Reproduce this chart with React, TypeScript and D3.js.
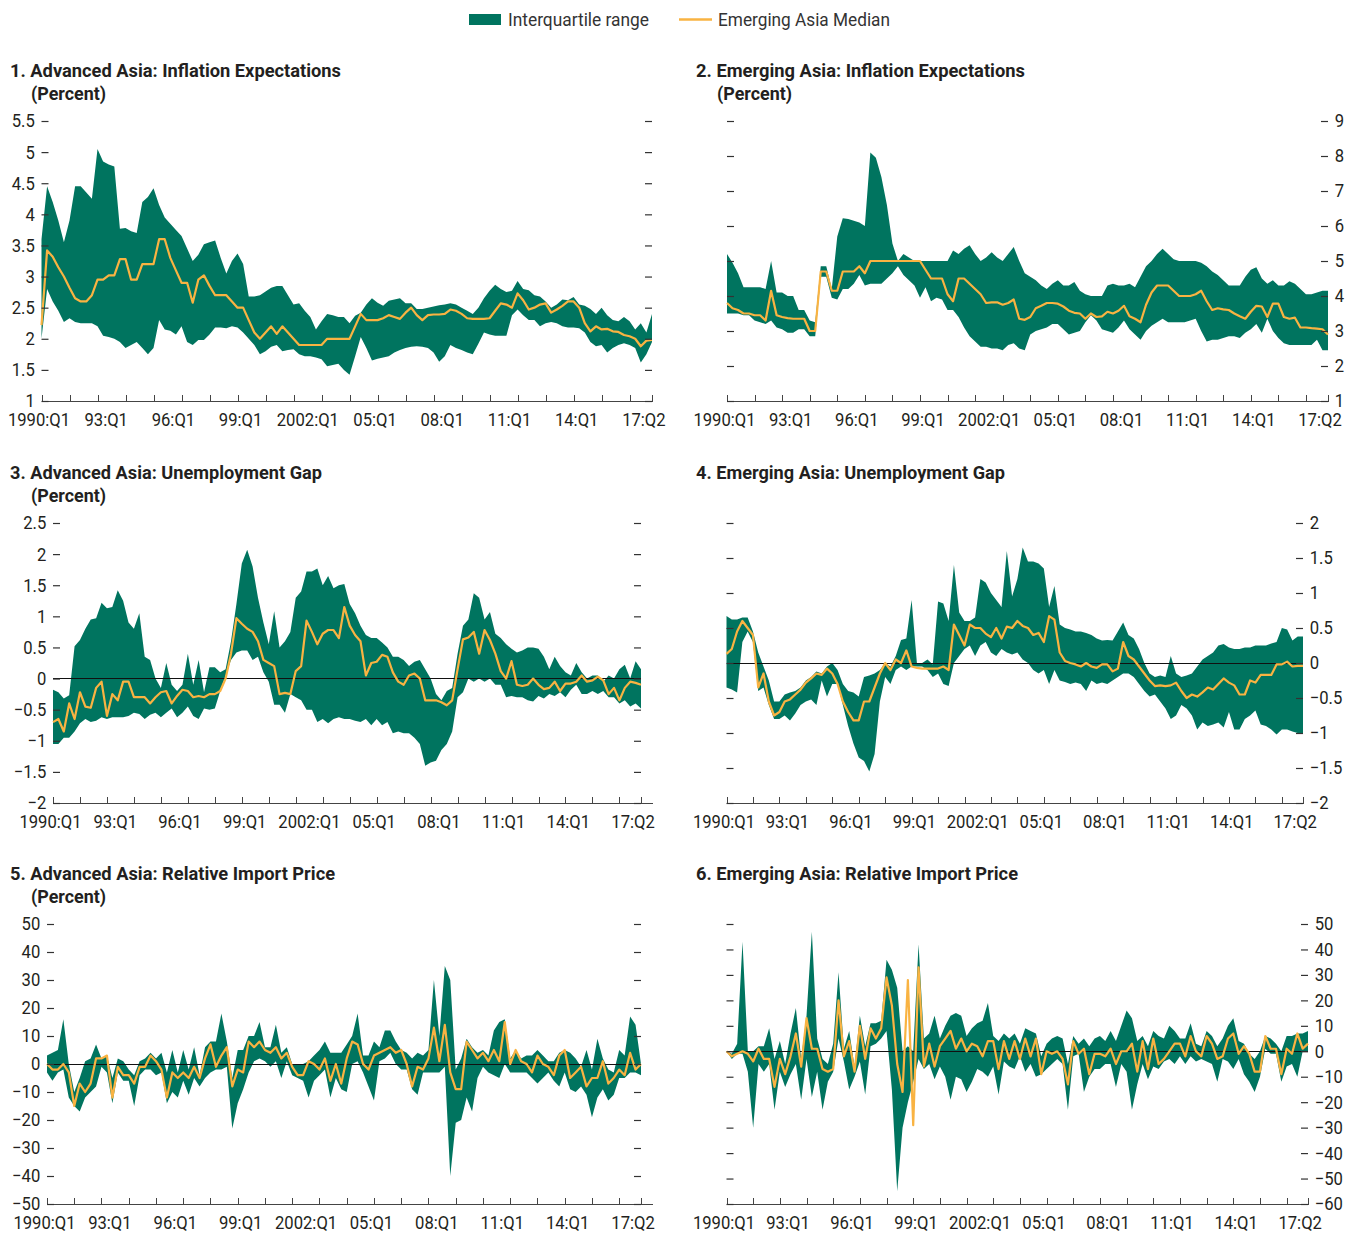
import { useEffect, useRef } from 'react'
import * as d3 from 'd3'

const W = 1362
const H = 1234
const GREEN = '#00745f'
const ORANGE = '#f9b342'
const INK = '#231f20'
const FONT = "Roboto, 'Liberation Sans', Arial, sans-serif"

// quarters 1990:Q1 .. 2017:Q2
const QUARTERS: string[] = []
for (let y = 1990; y <= 2017; y++) {
  for (let q = 1; q <= 4; q++) {
    if (y < 2017 || q <= 2) QUARTERS.push(`${y}Q${q}`)
  }
}

const X_LABELS = ['1990:Q1', '93:Q1', '96:Q1', '99:Q1', '2002:Q1', '05:Q1', '08:Q1', '11:Q1', '14:Q1', '17:Q2']
const X_LABEL_AT = ['1990Q1', '1993Q1', '1996Q1', '1999Q1', '2002Q1', '2005Q1', '2008Q1', '2011Q1', '2014Q1', '2017Q1']

const TICKS_ADV_INF = [1, 1.5, 2, 2.5, 3, 3.5, 4, 4.5, 5, 5.5]
const TICKS_EM_INF = [1, 2, 3, 4, 5, 6, 7, 8, 9]
const TICKS_ADV_GAP = [-2, -1.5, -1, -0.5, 0, 0.5, 1, 1.5, 2, 2.5]
const TICKS_EM_GAP = [-2, -1.5, -1, -0.5, 0, 0.5, 1, 1.5, 2]
const TICKS_ADV_IMP = [-50, -40, -30, -20, -10, 0, 10, 20, 30, 40, 50]
const TICKS_EM_IMP = [-60, -50, -40, -30, -20, -10, 0, 10, 20, 30, 40, 50]

// 1. Advanced Asia: inflation expectations
const ADV_INF_HI = [
  3.6, 4.45, 4.2, 3.9, 3.55, 3.9, 4.45, 4.45, 4.35, 4.25,
  5.05, 4.85, 4.8, 4.77, 3.77, 3.78, 3.73, 3.7, 4.2, 4.28,
  4.42, 4.15, 3.95, 3.85, 3.75, 3.65, 3.45, 3.25, 3.35, 3.52,
  3.55, 3.58, 3.3, 3.05, 3.25, 3.37, 3.2, 2.68, 2.68, 2.7,
  2.76, 2.82, 2.85, 2.85, 2.7, 2.55, 2.57, 2.45, 2.35, 2.15,
  2.28, 2.4, 2.38, 2.35, 2.35, 2.25, 2.37, 2.42, 2.55, 2.65,
  2.58, 2.53, 2.61, 2.63, 2.65, 2.57, 2.57, 2.48, 2.48, 2.5,
  2.52, 2.54, 2.55, 2.57, 2.55, 2.5, 2.45, 2.4, 2.5, 2.65,
  2.77, 2.87, 2.8, 2.75, 2.77, 2.93, 2.8, 2.78, 2.7, 2.68,
  2.6, 2.5, 2.55, 2.63, 2.62, 2.67, 2.55, 2.53, 2.48, 2.4,
  2.5, 2.38, 2.3, 2.28, 2.35, 2.28, 2.15, 2.25, 2.1, 2.4,
]
const ADV_INF_LO = [
  2.0, 2.8, 2.6, 2.45, 2.27, 2.33, 2.27, 2.25, 2.25, 2.25,
  2.2, 2.05, 2.03, 2.0, 1.95, 1.85, 1.9, 1.95, 1.85, 1.75,
  1.85, 2.3, 2.15, 2.13, 2.07, 2.2, 1.95, 1.9, 1.98, 1.98,
  2.07, 2.18, 2.18, 2.17, 2.2, 2.18, 2.1, 2.0, 1.9, 1.75,
  1.8, 1.87, 1.9, 1.8, 1.82, 1.83, 1.75, 1.72, 1.72, 1.7,
  1.67, 1.56, 1.58, 1.6, 1.5, 1.42, 1.72, 2.03, 1.85, 1.65,
  1.68, 1.7, 1.72, 1.78, 1.82, 1.85, 1.87, 1.88, 1.87, 1.85,
  1.78, 1.63, 1.72, 1.9, 1.85, 1.82, 1.78, 1.75, 1.92, 2.1,
  2.07, 2.05, 2.05, 2.05, 2.38, 2.47, 2.38, 2.3, 2.3, 2.2,
  2.25, 2.27, 2.25, 2.2, 2.18, 2.18, 2.17, 2.1, 1.95, 1.88,
  1.9, 1.78, 1.85, 1.9, 1.93, 1.9, 1.85, 1.62, 1.75, 1.95,
]
const ADV_INF_MED = [
  2.22, 3.42, 3.32, 3.15, 3.0, 2.82, 2.65, 2.6, 2.6, 2.7,
  2.95, 2.95, 3.02, 3.02, 3.28, 3.28, 2.95, 2.95, 3.2, 3.2,
  3.2, 3.6, 3.6, 3.3, 3.1, 2.9, 2.9, 2.58, 2.95, 3.02,
  2.85, 2.7, 2.7, 2.7, 2.6, 2.5, 2.5, 2.3, 2.1, 2.0,
  2.1, 2.2, 2.08, 2.2, 2.1, 2.0, 1.9, 1.9, 1.9, 1.9,
  1.9, 2.0, 2.0, 2.0, 2.0, 2.0, 2.2, 2.4, 2.3, 2.3,
  2.3, 2.33, 2.38, 2.35, 2.32, 2.42, 2.5, 2.38, 2.3, 2.38,
  2.39, 2.39, 2.4, 2.47, 2.45, 2.4, 2.33, 2.32, 2.32, 2.32,
  2.33, 2.45, 2.57, 2.55, 2.5, 2.73, 2.62, 2.47, 2.5, 2.55,
  2.57, 2.42, 2.47, 2.53, 2.6, 2.6, 2.5, 2.25, 2.12, 2.2,
  2.15, 2.16, 2.12, 2.11, 2.06, 2.04, 2.0, 1.88, 1.97, 1.98,
]

// 2. Emerging Asia: inflation expectations
const EM_INF_HI = [
  5.2, 4.95, 4.65, 4.25, 4.25, 4.25, 4.25, 4.2, 5.0, 4.1,
  4.1, 4.0, 4.0, 3.6, 3.6, 3.3, 3.25, 4.85, 4.85, 4.2,
  5.7, 6.22, 6.2, 6.15, 6.1, 6.0, 8.1, 7.95, 7.4, 6.6,
  5.5, 5.0, 5.2, 5.1, 5.0, 5.0, 5.0, 5.0, 5.0, 5.0,
  5.0, 5.3, 5.2, 5.35, 5.45, 5.2, 5.0, 5.1, 5.25, 5.1,
  5.0, 5.2, 5.4, 5.0, 4.65, 4.55, 4.45, 4.3, 4.2, 4.35,
  4.45, 4.3, 4.3, 4.4, 4.15, 4.05, 4.0, 4.0, 4.0, 4.3,
  4.35, 4.3, 4.3, 4.35, 4.25, 4.55, 4.85, 5.0, 5.2, 5.35,
  5.2, 5.05, 5.0, 5.0, 5.0, 5.0, 4.95, 4.85, 4.7, 4.6,
  4.45, 4.3, 4.3, 4.3, 4.55, 4.75, 4.82, 4.5, 4.35, 4.45,
  4.3, 4.3, 4.42, 4.35, 4.2, 4.05, 4.05, 4.1, 4.15, 4.15,
]
const EM_INF_LO = [
  3.5, 3.5, 3.5, 3.45, 3.45, 3.3, 3.25, 3.2, 3.3, 3.1,
  3.05, 2.95, 2.95, 3.05, 3.05, 2.85, 2.85, 4.55, 4.55, 3.95,
  3.9, 4.2, 4.2, 4.35, 4.6, 4.3, 4.35, 4.35, 4.35, 4.5,
  4.65, 4.85, 4.6, 4.45, 4.3, 3.95, 4.25, 3.85, 3.95, 3.9,
  3.6, 3.6, 3.4, 3.1, 2.85, 2.7, 2.55, 2.55, 2.5, 2.5,
  2.45, 2.6, 2.65, 2.5, 2.45, 2.9, 3.0, 3.05, 3.1, 3.2,
  3.2, 3.05, 2.9, 2.95, 3.0, 3.25, 3.45, 3.3, 3.05, 3.0,
  2.95, 3.1, 3.3, 3.05, 2.9, 2.75, 3.0, 3.15, 3.25, 3.35,
  3.25, 3.25, 3.25, 3.25, 3.3, 3.35, 3.0, 2.7, 2.75, 2.75,
  2.8, 2.85, 2.85, 2.8, 2.95, 3.05, 3.2, 2.95, 3.35, 3.0,
  2.8, 2.65, 2.6, 2.6, 2.6, 2.6, 2.6, 2.75, 2.45, 2.45,
]
const EM_INF_MED = [
  3.8, 3.65, 3.6, 3.5, 3.5, 3.45, 3.45, 3.3, 4.15, 3.45,
  3.4, 3.37, 3.35, 3.35, 3.35, 3.0, 3.0, 4.7, 4.7, 4.15,
  4.15, 4.7, 4.7, 4.7, 4.85, 4.65, 5.0, 5.0, 5.0, 5.0,
  5.0, 5.0, 5.0, 5.0, 5.0, 5.0, 4.75, 4.5, 4.5, 4.5,
  4.05, 3.85, 4.5, 4.5, 4.35, 4.2, 4.05, 3.8, 3.82, 3.82,
  3.75, 3.8, 3.9, 3.35, 3.32, 3.4, 3.65, 3.72, 3.8, 3.8,
  3.78, 3.7, 3.58, 3.52, 3.5, 3.35, 3.5, 3.4, 3.42, 3.55,
  3.5, 3.58, 3.72, 3.42, 3.35, 3.25, 3.75, 4.1, 4.3, 4.3,
  4.3, 4.15, 4.0, 4.0, 4.0, 4.05, 4.15, 3.85, 3.6, 3.65,
  3.62, 3.6, 3.5, 3.42, 3.35, 3.55, 3.72, 3.7, 3.4, 3.78,
  3.78, 3.4, 3.35, 3.38, 3.1, 3.1, 3.08, 3.07, 3.05, 2.9,
]

// 3. Advanced Asia: unemployment gap
const ADV_GAP_HI = [
  -0.18, -0.22, -0.32, -0.27, 0.52, 0.62, 0.8, 0.95, 0.97, 1.22,
  1.13, 1.15, 1.42, 1.25, 0.9, 0.8, 1.05, 0.35, 0.3, 0.0,
  -0.15, 0.25, -0.1, -0.2, -0.1, 0.4, -0.1, 0.3, -0.22, 0.18,
  0.18, 0.1, 0.15, 0.6, 1.2, 1.85, 2.07, 1.8, 1.3, 0.9,
  0.55, 1.08, 0.5, 0.6, 0.75, 1.3, 1.4, 1.72, 1.72, 1.77,
  1.5, 1.65, 1.45, 1.5, 1.52, 1.2, 1.05, 0.85, 0.7, 0.65,
  0.65, 0.58, 0.5, 0.35, 0.35, 0.3, 0.2, 0.27, 0.3, 0.15,
  0.0, -0.25, -0.35, -0.2, -0.15, 0.4, 0.85, 0.95, 1.37, 1.3,
  0.95, 1.07, 0.72, 0.65, 0.55, 0.48, 0.42, 0.45, 0.5, 0.5,
  0.48, 0.35, 0.15, 0.35, 0.2, 0.1, 0.05, 0.25, 0.1, 0.0,
  0.05, 0.05, -0.05, 0.05, 0.0, 0.15, 0.22, 0.0, 0.28, 0.15,
]
const ADV_GAP_LO = [
  -1.05, -1.05, -0.95, -0.95, -0.85, -0.72, -0.65, -0.7, -0.68, -0.62,
  -0.65, -0.62, -0.62, -0.62, -0.6, -0.55, -0.57, -0.65, -0.58, -0.55,
  -0.62, -0.55, -0.48, -0.62, -0.55, -0.45, -0.6, -0.65, -0.48, -0.5,
  -0.48, -0.2, 0.05, 0.3, 0.42, 0.45, 0.45, 0.3, 0.35, 0.1,
  -0.05, -0.42, -0.42, -0.55, -0.25, -0.3, -0.35, -0.5, -0.5, -0.7,
  -0.65, -0.72, -0.65, -0.62, -0.65, -0.65, -0.68, -0.7, -0.65, -0.75,
  -0.65, -0.75, -0.7, -0.88, -0.85, -0.88, -0.88, -0.95, -1.05, -1.4,
  -1.35, -1.32, -1.15, -1.05, -0.85, -0.3, -0.22, 0.0, -0.05, 0.0,
  -0.05, 0.0, -0.1, -0.1, -0.3, -0.28, -0.3, -0.3, -0.35, -0.37,
  -0.28, -0.32, -0.25, -0.28, -0.22, -0.3, -0.18, -0.1, -0.25, -0.25,
  -0.2, -0.25, -0.2, -0.3, -0.3, -0.4, -0.35, -0.45, -0.4, -0.48,
]
const ADV_GAP_MED = [
  -0.7, -0.65, -0.85, -0.4, -0.65, -0.22, -0.45, -0.47, -0.15, -0.05,
  -0.6, -0.25, -0.35, -0.05, -0.05, -0.3, -0.3, -0.3, -0.4, -0.3,
  -0.22, -0.2, -0.4, -0.28, -0.18, -0.2, -0.3, -0.28, -0.3, -0.25,
  -0.25, -0.2, 0.0, 0.4, 0.97, 0.88, 0.8, 0.75, 0.6, 0.3,
  0.25, 0.2, -0.25, -0.23, -0.25, 0.12, 0.2, 0.93, 0.75, 0.55,
  0.72, 0.78, 0.78, 0.65, 1.15, 0.85, 0.7, 0.6, 0.05, 0.25,
  0.27, 0.38, 0.35, 0.1, -0.05, -0.1, 0.05, 0.08, 0.0, -0.35,
  -0.35, -0.35, -0.38, -0.43, -0.35, 0.15, 0.63, 0.66, 0.75, 0.4,
  0.78, 0.62, 0.4, 0.12, 0.0, 0.28, -0.1, -0.12, -0.1, 0.0,
  -0.1, -0.17, -0.15, -0.05, -0.2, -0.08, -0.08, -0.05, 0.05, -0.05,
  -0.03, 0.03, -0.03, -0.25, -0.15, -0.35, -0.15, -0.05, -0.07, -0.1,
]

// 4. Emerging Asia: unemployment gap
const EM_GAP_HI = [
  0.67, 0.62, 0.62, 0.65, 0.65, 0.45, 0.15, -0.05, -0.25, -0.55,
  -0.55, -0.45, -0.42, -0.4, -0.35, -0.25, -0.2, -0.12, -0.15, -0.05,
  0.0, -0.1, -0.3, -0.4, -0.42, -0.48, -0.2, -0.18, -0.15, -0.1,
  0.0, -0.05, 0.1, 0.33, 0.35, 0.9, 0.0, 0.0, 0.05, -0.02,
  0.88, 0.85, 0.6, 1.4, 0.72, 0.6, 0.6, 0.65, 1.2, 1.15,
  1.0, 0.9, 0.8, 1.6, 0.95, 1.2, 1.65, 1.45, 1.45, 1.42,
  1.35, 0.8, 1.1, 0.55, 0.5, 0.48, 0.45, 0.45, 0.43, 0.4,
  0.35, 0.32, 0.33, 0.32, 0.45, 0.58, 0.4, 0.35, 0.2, 0.0,
  -0.15, -0.2, -0.18, -0.2, 0.1, -0.15, -0.2, -0.18, -0.15, -0.05,
  0.05, 0.1, 0.15, 0.25, 0.27, 0.22, 0.2, 0.2, 0.22, 0.22,
  0.25, 0.25, 0.25, 0.28, 0.3, 0.5, 0.48, 0.32, 0.38, 0.38,
]
const EM_GAP_LO = [
  -0.35, -0.38, -0.42, 0.3, 0.45, 0.3, -0.4, -0.35, -0.6, -0.8,
  -0.8, -0.75, -0.82, -0.72, -0.6, -0.55, -0.52, -0.6, -0.25, -0.48,
  -0.3, -0.3, -0.6, -0.9, -1.15, -1.35, -1.4, -1.55, -1.3, -0.55,
  -0.2, -0.3, -0.1, -0.05, -0.1, -0.05, -0.05, -0.05, -0.1, -0.2,
  -0.15, -0.3, -0.33, 0.0, 0.1, 0.2, 0.25, 0.1, 0.25, 0.3,
  0.15, 0.1, 0.2, 0.15, 0.12, 0.15, 0.05, 0.0, -0.1, -0.15,
  -0.1, -0.3, -0.1, -0.25, -0.27, -0.3, -0.28, -0.3, -0.4, -0.25,
  -0.3, -0.28, -0.3, -0.25, -0.2, -0.15, -0.15, -0.2, -0.3, -0.4,
  -0.48, -0.45, -0.55, -0.65, -0.8, -0.75, -0.6, -0.65, -0.75, -0.95,
  -0.85, -0.9, -0.88, -0.85, -0.92, -0.7, -0.95, -0.95, -0.8, -0.75,
  -0.68, -0.88, -0.9, -0.95, -1.02, -0.95, -0.95, -0.98, -1.0, -1.0,
]
const EM_GAP_MED = [
  0.13, 0.2, 0.45, 0.6, 0.5, 0.4, -0.35, -0.15, -0.55, -0.75,
  -0.7, -0.55, -0.52, -0.45, -0.38, -0.28, -0.22, -0.15, -0.17, -0.08,
  -0.15, -0.3, -0.55, -0.7, -0.82, -0.82, -0.55, -0.55, -0.35, -0.15,
  0.0, -0.1, 0.05, 0.0, 0.18, -0.05, -0.07, -0.08, -0.08, -0.08,
  -0.08, -0.05, -0.1, 0.55, 0.4, 0.25, 0.55, 0.5, 0.5, 0.42,
  0.37, 0.5, 0.35, 0.52, 0.5, 0.6, 0.53, 0.5, 0.4, 0.43,
  0.3, 0.67, 0.62, 0.15, 0.03, 0.0, -0.02, -0.05, 0.0, -0.05,
  -0.07, -0.02, -0.02, -0.12, -0.08, 0.3, 0.1, 0.05, -0.05, -0.15,
  -0.25, -0.33, -0.32, -0.33, -0.32, -0.28, -0.4, -0.5, -0.45, -0.48,
  -0.42, -0.35, -0.38, -0.3, -0.22, -0.28, -0.32, -0.45, -0.45, -0.25,
  -0.28, -0.17, -0.17, -0.17, -0.02, -0.02, 0.02, -0.05, -0.04, -0.04,
]

// 5. Advanced Asia: relative import price
const ADV_IMP_HI = [
  3, 4, 5, 16, 0, -10, -5, 1, 2, 7,
  2, 3, -5, 2, 1, -2, -4, 1, 2, 4,
  2, 4, -3, 5, -3, 5, -2, 6, -4, 6,
  8, 8, 18, 8, -5, 5, 5, 10, 10, 15,
  6, 6, 14, 4, 6, 0, 0, 0, 1, 3,
  5, 8, 4, 4, 4, 7, 10, 18, 3, 3,
  8, 6, 12, 12, 8, 5, 4, 2, 4, 3,
  5, 30, 10, 35, 30, -2, 2, 9, 6, 4,
  5, 3, 12, 15, 16, 2, 5, 2, 3, 3,
  5, 3, 1, 1, 4, 5, 4, 2, -1, 5,
  -2, 9, 2, -2, -3, 5, 3, 17, 14, 0,
]
const ADV_IMP_LO = [
  -3, -6, -3, -2, -12, -15, -17, -12, -10, -8,
  -1, -3, -14, -3, -6, -6, -15, -4, -2, -2,
  -4, -3, -14, -10, -12, -6, -11, -5, -8, -5,
  -3, -2, -2, -1, -23, -14, -9, -3, 1, 2,
  1, -1, 1, -5, 1, -4, -5, -6, -12, -6,
  -4, -2, -12, -5, -9, -10, 0, 1, -3, -8,
  -13, 1, 2, 4, 0, -2, -2, -9, -11, -3,
  -3, -3, -3, -1, -40, -21, -20, -12, -17, -5,
  -1, -3, -4, -5, 0, -3, -3, -3, -3, -5,
  -7, -5, -3, -6, -8, -3, -9, -10, -8, -11,
  -19, -12, -9, -13, -11, -5, -5, -3, -3, -4,
]
const ADV_IMP_MED = [
  0, -2, -2, 0, -3, -15, -7, -10, -7, 2,
  2, 3, -12, -1, -4, -4, -7, -1, -1, 3,
  1, -2, -12, -3, -5, -3, -5, -1, -5, 2,
  7, -1, 3, 6, -8, -2, -3, 8, 6, 8,
  5, 4, 6, 2, 4, -1, -4, -4, 1, 0,
  -2, 2, -6, 0, -7, 2, 8, 7, 0, -2,
  3, 4, 5, 6, 4, 5, 0, -8, -1, -2,
  2, 13, 1, 14, -3, -9, -9, 8, 5, 2,
  4, 1, 5, 1, 15, 0, 5, 1, 0, -3,
  3, 0, -1, -4, 3, 5, -5, -3, -1, -8,
  -5, -5, 1, -7, -5, -2, -4, 4, -2, 0,
]

// 6. Emerging Asia: relative import price
const EM_IMP_HI = [
  0, -1, 3, 43, 0, 0, 2, 2, 9, -3,
  4, -5, 7, 17, -3, 14, 47, 5, -3, -5,
  3, 31, 1, 8, -6, 14, 2, 11, 11, 12,
  36, 32, 25, 0, 2, 0, 42, 5, 7, 14,
  5, 10, 14, 15, 14, 6, 9, 11, 12, 19,
  6, 4, 7, 5, 7, 3, 9, 8, 7, -2,
  3, 5, 6, 5, -5, 6, 3, 5, 2, 5,
  6, 4, 8, 4, 10, 16, 13, 4, 6, 2,
  8, 6, 5, 10, 8, 5, 5, 11, 3, 2,
  8, 6, 2, 5, 10, 13, 4, 3, -1, -3,
  0, 6, 5, 3, 0, 6, 6, 7, 7, 8,
]
const EM_IMP_LO = [
  0, -3, -1, -1, -8, -30, -5, -8, -5, -23,
  -8, -14, -9, -5, -19, -3, -18, -8, -23, -12,
  -8, 5, -4, -15, -10, -4, -17, 2, 3, 5,
  8, -15, -55, -30, -20, -12, -3, -7, -5, -11,
  -6, -10, -19, -10, -11, -16, -12, -7, -8, -10,
  -6, -17, -4, -6, -7, -2, -8, -5, -10, -9,
  -7, -5, -3, -5, -23, -2, -1, -16, -10, -7,
  -7, -5, -5, -14, -5, -8, -23, -13, -5, -11,
  -6, -7, -4, -3, -5, -2, -5, -2, -4, -3,
  -4, -5, -12, -3, -4, -7, -3, -9, -12, -16,
  -10, 1, -1, -1, -12, -6, -5, -10, 0, 0,
]
const EM_IMP_MED = [
  0, -2, -1, 0, -1, -4, 1, -3, -3, -14,
  -3, -9, -2, 7, -6, 13, 1, 1, -7, -8,
  -7, 20, -2, 4, -8, 10, -3, 9, 5, 9,
  29, 18, -5, -16, 28, -29, 33, -6, 3, -6,
  2, 5, 8, 1, 5, 0, 3, 2, -2, 4,
  4, -7, 4, -3, 4, -3, 5, -2, 5, -9,
  0, -1, 0, -3, -13, 4, -1, 1, -9, -1,
  -1, -2, 1, -5, 0, 0, 3, -8, 4, -7,
  5, -5, -3, 0, 3, 3, -2, 6, 0, -2,
  6, 3, -3, -2, 5, 7, -1, 2, -1, -8,
  -8, 6, 1, 1, -9, 1, -1, 7, 1, 3,
]

interface Panel {
  title: string
  titleW: number
  sub?: string
  hi: number[]
  lo: number[]
  med: number[]
  ticks: number[]
  side: 'left' | 'right'
  zero: boolean
  x0: number
  x1: number
  axisEnd: number
  top: number
  bottom: number
  tx: number
  ty: number
}

const PANELS: Panel[] = [
  { title: '1. Advanced Asia: Inflation Expectations', titleW: 331, sub: '(Percent)', hi: ADV_INF_HI, lo: ADV_INF_LO, med: ADV_INF_MED,
    ticks: TICKS_ADV_INF, side: 'left', zero: false, x0: 41.5, x1: 652, axisEnd: 652, top: 121, bottom: 401, tx: 10, ty: 77 },
  { title: '2. Emerging Asia: Inflation Expectations', titleW: 329, sub: '(Percent)', hi: EM_INF_HI, lo: EM_INF_LO, med: EM_INF_MED,
    ticks: TICKS_EM_INF, side: 'right', zero: false, x0: 727, x1: 1328, axisEnd: 1328, top: 121, bottom: 401, tx: 696, ty: 77 },
  { title: '3. Advanced Asia: Unemployment Gap', titleW: 312, sub: '(Percent)', hi: ADV_GAP_HI, lo: ADV_GAP_LO, med: ADV_GAP_MED,
    ticks: TICKS_ADV_GAP, side: 'left', zero: true, x0: 53, x1: 641, axisEnd: 653, top: 523, bottom: 803, tx: 10, ty: 479 },
  { title: '4. Emerging Asia: Unemployment Gap', titleW: 309, hi: EM_GAP_HI, lo: EM_GAP_LO, med: EM_GAP_MED,
    ticks: TICKS_EM_GAP, side: 'right', zero: true, x0: 726.5, x1: 1303, axisEnd: 1303, top: 523, bottom: 803, tx: 696, ty: 479 },
  { title: '5. Advanced Asia: Relative Import Price', titleW: 325, sub: '(Percent)', hi: ADV_IMP_HI, lo: ADV_IMP_LO, med: ADV_IMP_MED,
    ticks: TICKS_ADV_IMP, side: 'left', zero: true, x0: 47, x1: 641, axisEnd: 653, top: 924, bottom: 1204, tx: 10, ty: 880 },
  { title: '6. Emerging Asia: Relative Import Price', titleW: 322, hi: EM_IMP_HI, lo: EM_IMP_LO, med: EM_IMP_MED,
    ticks: TICKS_EM_IMP, side: 'right', zero: true, x0: 726.5, x1: 1308, axisEnd: 1308, top: 924, bottom: 1204, tx: 696, ty: 880 },
]

const fmt = (d: number) => (d < 0 ? '\u2212' : '') + String(Math.abs(d))

export default function App() {
  const svgRef = useRef<SVGSVGElement>(null)

  useEffect(() => {
    document.body.style.margin = '0'
    const svg = d3.select(svgRef.current)
    svg.selectAll('*').remove()
    svg.append('rect').attr('width', W).attr('height', H).attr('fill', '#fff')

    // legend
    const lg = svg.append('g').attr('font-size', 18).attr('fill', '#333')
    lg.append('rect').attr('x', 469).attr('y', 14).attr('width', 32).attr('height', 11).attr('fill', GREEN)
    lg.append('text').attr('x', 508).attr('y', 26).attr('textLength', 141).attr('lengthAdjust', 'spacingAndGlyphs')
      .text('Interquartile range')
    lg.append('line').attr('x1', 679).attr('x2', 712).attr('y1', 19.5).attr('y2', 19.5)
      .attr('stroke', ORANGE).attr('stroke-width', 2.5)
    lg.append('text').attr('x', 718).attr('y', 26).attr('textLength', 172).attr('lengthAdjust', 'spacingAndGlyphs')
      .text('Emerging Asia Median')

    const idx = d3.range(QUARTERS.length)

    PANELS.forEach(p => {
      const g = svg.append('g')
      const x = d3.scalePoint<string>().domain(QUARTERS).range([p.x0, p.x1])
      const y = d3.scaleLinear().domain(d3.extent(p.ticks) as [number, number]).range([p.bottom, p.top])
      const px = (i: number) => x(QUARTERS[i]) as number

      const area = d3.area<number>().x(px).y0(i => y(p.lo[i])).y1(i => y(p.hi[i]))
      g.append('path').datum(idx).attr('d', area).attr('fill', GREEN)

      if (p.zero) {
        g.append('line').attr('x1', p.x0).attr('x2', p.x1).attr('y1', y(0)).attr('y2', y(0))
          .attr('stroke', '#111').attr('stroke-width', 1).attr('shape-rendering', 'crispEdges')
      }

      const line = d3.line<number>().x(px).y(i => y(p.med[i]))
      g.append('path').datum(idx).attr('d', line).attr('fill', 'none')
        .attr('stroke', ORANGE).attr('stroke-width', 2.2).attr('stroke-linejoin', 'round')

      // x axis: inward ticks every 5 quarters
      const xa = g.append('g').attr('transform', `translate(0,${p.bottom})`)
        .call(d3.axisBottom(x).tickValues(QUARTERS.filter((_, i) => i % 5 === 0))
          .tickSizeInner(-6).tickSizeOuter(-6).tickFormat(() => ''))
      if (p.axisEnd > p.x1) {
        xa.append('line').attr('x1', p.x1).attr('x2', p.axisEnd).attr('y1', 0.5).attr('y2', 0.5)
      }
      xa.selectAll('path, line').attr('stroke', '#444').attr('shape-rendering', 'crispEdges')

      const xl = g.append('g').attr('transform', `translate(-3,${p.bottom})`)
        .call(d3.axisBottom(x).tickValues(X_LABEL_AT).tickSize(0).tickPadding(12)
          .tickFormat((_, i) => X_LABELS[i]))
      xl.select('.domain').remove()
      xl.selectAll('text').attr('font-size', 18.5).attr('font-family', FONT).attr('fill', INK)
        .attr('transform', 'scale(0.9,1)')

      // y axes: short inward dashes on both sides, labels on one side
      const ya = g.append('g').attr('transform', `translate(${p.x0},0)`)
        .call(d3.axisLeft(y).tickValues(p.ticks).tickSize(-7).tickPadding(7.5)
          .tickFormat(d => (p.side === 'left' ? fmt(d as number) : '')))
      const yb = g.append('g').attr('transform', `translate(${p.x1},0)`)
        .call(d3.axisRight(y).tickValues(p.ticks).tickSize(-7).tickPadding(7.5)
          .tickFormat(d => (p.side === 'right' ? fmt(d as number) : '')))
      ;[ya, yb].forEach(a => {
        a.select('.domain').remove()
        a.selectAll('line').attr('stroke', '#333').attr('stroke-width', 1.2)
        a.selectAll('text').attr('font-size', 18.5).attr('font-family', FONT).attr('fill', INK)
          .attr('transform', 'scale(0.9,1)')
      })

      g.append('text').attr('x', p.tx).attr('y', p.ty).attr('font-size', 19).attr('font-weight', 'bold')
        .attr('textLength', p.titleW).attr('lengthAdjust', 'spacingAndGlyphs')
        .attr('fill', INK).text(p.title)
      if (p.sub) {
        g.append('text').attr('x', p.tx + 21).attr('y', p.ty + 23).attr('font-size', 19).attr('font-weight', 'bold')
          .attr('textLength', 75).attr('lengthAdjust', 'spacingAndGlyphs')
          .attr('fill', INK).text(p.sub)
      }
    })
  }, [])

  return <svg ref={svgRef} width={W} height={H} style={{ display: 'block', fontFamily: FONT }} />
}
